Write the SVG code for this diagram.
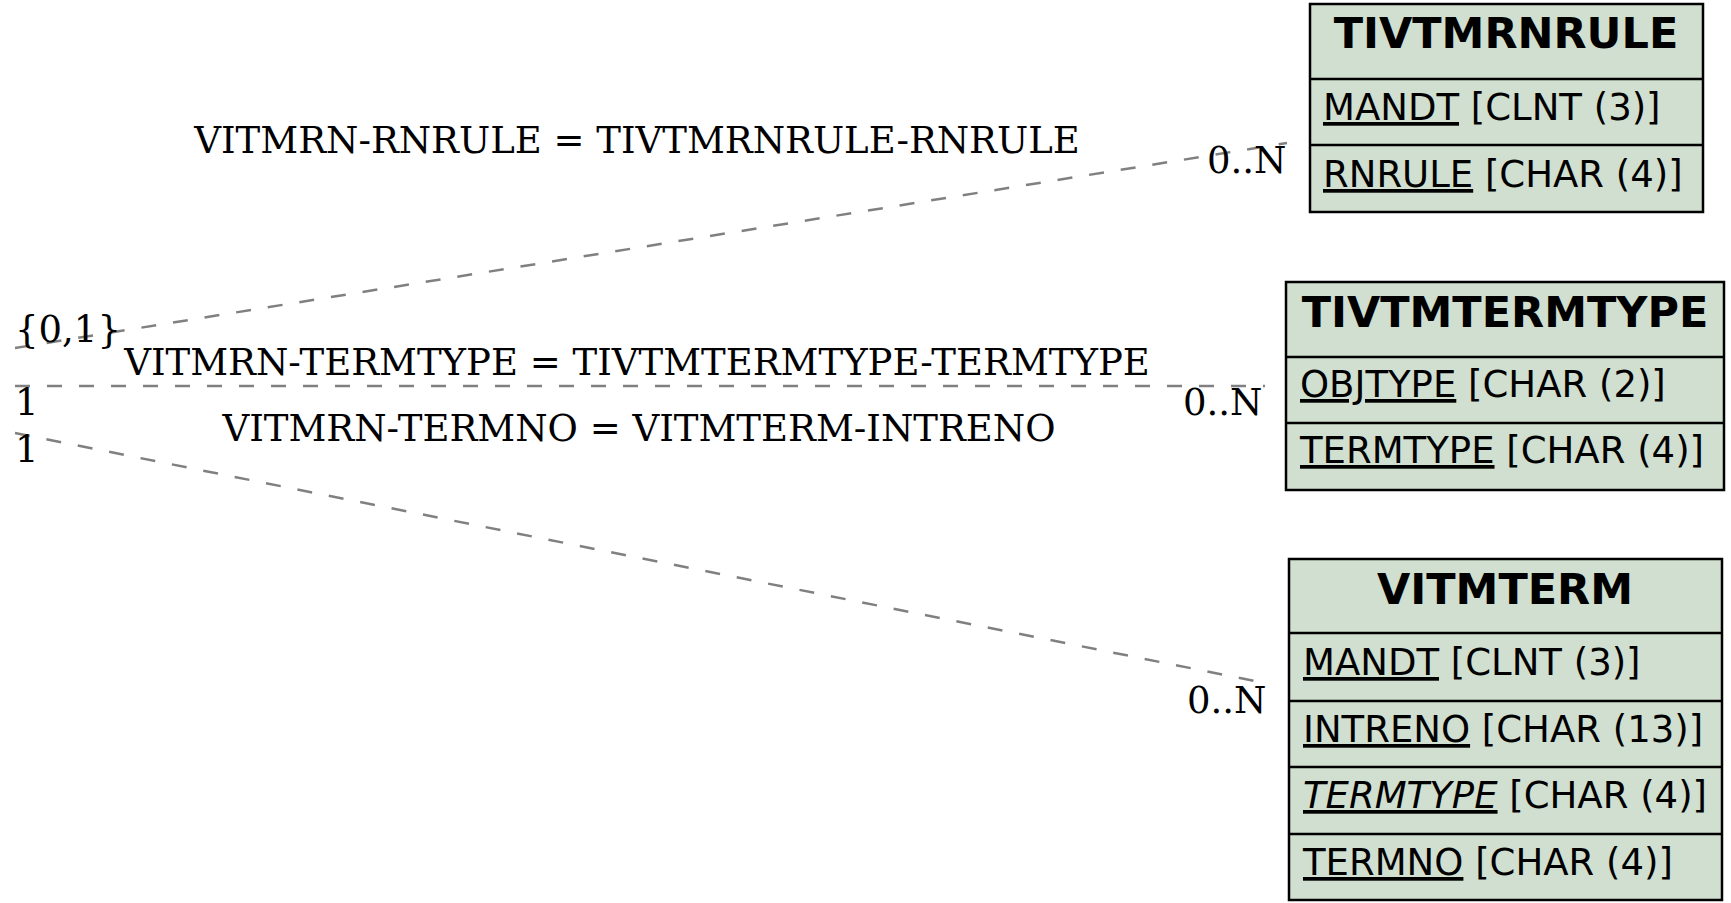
<svg xmlns="http://www.w3.org/2000/svg" width="1731" height="903" viewBox="0 0 1731 903">
<style>
.box{fill:#d0dfd0;stroke:#000;stroke-width:2.5}
.div{stroke:#000;stroke-width:2.5}
.title{font-family:"DejaVu Sans",sans-serif;font-weight:bold;font-size:43px;text-anchor:middle;fill:#000}
.row{font-family:"DejaVu Sans",sans-serif;font-size:37px;fill:#000}
.lbl{font-family:"DejaVu Serif",serif;font-size:37px;fill:#000}
.conn{stroke:#808080;stroke-width:2.5;stroke-dasharray:15 17;fill:none}
</style>
<rect width="1731" height="903" fill="#fff"/>
<g id="connectors">
<line class="conn" x1="15" y1="348" x2="1287" y2="143"/>
<line class="conn" x1="15" y1="386" x2="1265" y2="386"/>
<line class="conn" x1="15" y1="433" x2="1255" y2="681"/>
<text class="lbl" x="637" y="153" text-anchor="middle">VITMRN-RNRULE = TIVTMRNRULE-RNRULE</text>
<text class="lbl" x="637" y="375" text-anchor="middle">VITMRN-TERMTYPE = TIVTMTERMTYPE-TERMTYPE</text>
<text class="lbl" x="639" y="441" text-anchor="middle">VITMRN-TERMNO = VITMTERM-INTRENO</text>
<text class="lbl" x="15" y="342">{0,1}</text>
<text class="lbl" x="15" y="415">1</text>
<text class="lbl" x="15" y="462">1</text>
<text class="lbl" x="1207" y="173">0..N</text>
<text class="lbl" x="1183" y="415">0..N</text>
<text class="lbl" x="1187" y="713">0..N</text>
</g>
<g id="TIVTMRNRULE">
<rect class="box" x="1310" y="4" width="393" height="208"/>
<line class="div" x1="1310" y1="79" x2="1703" y2="79"/>
<line class="div" x1="1310" y1="145" x2="1703" y2="145"/>
<text class="title" x="1506" y="48">TIVTMRNRULE</text>
<text class="row" x="1323" y="120"><tspan text-decoration="underline">MANDT</tspan> [CLNT (3)]</text>
<text class="row" x="1323" y="187"><tspan text-decoration="underline">RNRULE</tspan> [CHAR (4)]</text>
</g>
<g id="TIVTMTERMTYPE">
<rect class="box" x="1286" y="282" width="438" height="208"/>
<line class="div" x1="1286" y1="357" x2="1724" y2="357"/>
<line class="div" x1="1286" y1="423" x2="1724" y2="423"/>
<text class="title" x="1505" y="327">TIVTMTERMTYPE</text>
<text class="row" x="1300" y="397"><tspan text-decoration="underline">OBJTYPE</tspan> [CHAR (2)]</text>
<text class="row" x="1300" y="463"><tspan text-decoration="underline">TERMTYPE</tspan> [CHAR (4)]</text>
</g>
<g id="VITMTERM">
<rect class="box" x="1289" y="559" width="433" height="341"/>
<line class="div" x1="1289" y1="633" x2="1722" y2="633"/>
<line class="div" x1="1289" y1="701" x2="1722" y2="701"/>
<line class="div" x1="1289" y1="767" x2="1722" y2="767"/>
<line class="div" x1="1289" y1="834" x2="1722" y2="834"/>
<text class="title" x="1505" y="604">VITMTERM</text>
<text class="row" x="1303" y="675"><tspan text-decoration="underline">MANDT</tspan> [CLNT (3)]</text>
<text class="row" x="1303" y="742"><tspan text-decoration="underline">INTRENO</tspan> [CHAR (13)]</text>
<text class="row" x="1303" y="808"><tspan text-decoration="underline" font-style="italic">TERMTYPE</tspan> [CHAR (4)]</text>
<text class="row" x="1303" y="875"><tspan text-decoration="underline">TERMNO</tspan> [CHAR (4)]</text>
</g>
</svg>
